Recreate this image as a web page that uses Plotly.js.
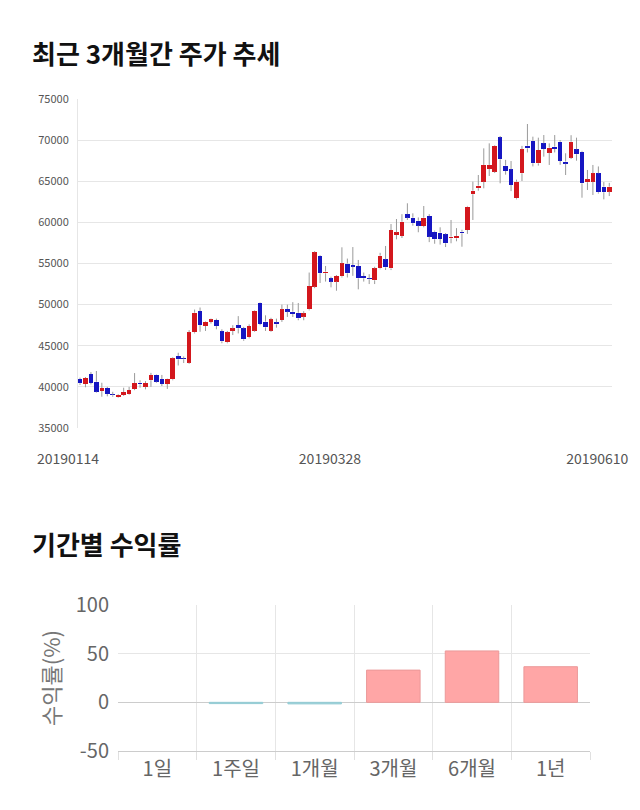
<!DOCTYPE html>
<html>
<head>
<meta charset="utf-8">
<script src="https://cdn.plot.ly/plotly-3.0.1.min.js"></script>
<style>html,body{margin:0;padding:0;background:#fff;}#chart{width:640px;height:810px;}</style>
</head>
<body>
<div id="chart"></div>
<script>
// ---- Price data (daily candles) ----
const dates = [
"20190114","20190115","20190116","20190117","20190118","20190121","20190122","20190123","20190124","20190125","20190128","20190129","20190130","20190131",
"20190207","20190208","20190211","20190212","20190213","20190214","20190215","20190218","20190219","20190220","20190221","20190222","20190225","20190226","20190227","20190228",
"20190304","20190305","20190306","20190307","20190308","20190311","20190312","20190313","20190314","20190315","20190318","20190319","20190320","20190321","20190322","20190325","20190326","20190327","20190328","20190329",
"20190401","20190402","20190403","20190404","20190405","20190408","20190409","20190410","20190411","20190412","20190415","20190416","20190417","20190418","20190419","20190422","20190423","20190424","20190425","20190426","20190429","20190430",
"20190502","20190503","20190507","20190508","20190509","20190510","20190513","20190514","20190515","20190516","20190517","20190520","20190521","20190522","20190523","20190524","20190527","20190528","20190529","20190530","20190531",
"20190603","20190604","20190605","20190607","20190610"];
const openP = [40960,40350,41560,40630,39500,39860,39050,38730,39010,39130,39740,40510,40000,40800,41440,40960,40350,40920,43760,43450,42950,46640,49220,47400,47890,48130,46760,45420,46800,47520,47120,46030,46840,50240,47930,46840,47850,48130,49470,49140,49020,48540,49430,52190,55910,53810,53200,52800,53440,55000,54820,54690,53480,53200,52960,54400,55500,54400,58470,58350,61000,60570,60200,59560,60770,58870,58750,58550,58060,58060,58870,59070,63420,64150,64950,66500,66170,70340,66900,66450,62930,65970,69320,69930,67180,69610,68470,69210,69810,67390,67880,68890,68590,64880,64950,65970,64340,63740];
const highP = [41120,41200,41800,41930,40500,40000,39400,39100,39900,40000,41680,40800,40700,41700,41500,41450,41000,43600,44150,43700,46900,49400,49650,48000,48300,48300,47000,46800,47500,48600,47300,47600,49300,50300,48700,48400,48300,50000,50000,50300,50200,49200,53900,56500,56000,54700,53400,53600,56970,55600,57000,55430,53900,53700,54600,56300,57130,59800,60410,61000,62320,61100,60600,61990,61000,59000,59400,58700,60290,59300,59100,62000,64950,65760,69000,69610,69400,70500,67600,67460,65200,69300,71960,70420,70300,70620,69610,70620,70000,68400,70600,70300,68700,66370,66980,66800,64900,64800];
const lowP = [40230,39950,40300,39300,38800,38850,38800,38650,38900,39050,39600,39900,39700,40000,40500,40100,39750,40800,42600,42900,42800,46500,46700,46800,47700,47000,45300,45300,46300,46500,45600,45900,46700,47500,46800,46700,47200,47900,48500,48500,48100,48100,49300,52000,52630,52800,52100,51690,53300,53300,53500,51860,52800,52500,52500,54300,54210,54200,57940,58100,60290,59600,58800,59400,57600,57400,57300,57000,57460,57700,57040,58600,60290,63850,64140,65640,66000,64750,65800,63800,62800,65030,68500,66800,66900,67990,66980,68500,67000,65760,67700,67500,63000,63940,63330,63500,62800,63200];
const closeP = [40440,41080,40470,39410,39860,39130,38980,39010,39380,39620,40470,40310,40470,41440,40630,40350,40960,43470,43350,43350,46640,49020,47520,47930,48210,47400,45540,46640,47100,47120,45780,47400,49220,47640,47240,48210,47600,49430,49140,48860,48330,48940,52270,56360,53810,54010,52800,53480,55020,53800,54610,53200,53200,53080,54400,55950,54520,59070,58790,60080,60570,59890,59600,60570,58260,57940,57980,57460,58260,58350,58670,61920,63850,64470,66980,66980,69320,67670,66250,64550,64950,68890,69000,67180,68800,68920,69080,68920,67470,67140,69810,68290,64750,65240,65970,63660,63660,64340];
const tickIdx = [0, 48, 97];

// ---- Period returns ----
const periods = ["1일","1주일","1개월","3개월","6개월","1년"];
const returns = [0, -1.3, -1.6, 33.1, 52.8, 36.6];
const returnTicks = [-50, 0, 50, 100];

const RED = "#d3171d", BLUE = "#1616c2";
const idx = dates.map((d, i) => i);

// wick segments (above and below the body)
const wx = [], wy = [];
idx.forEach(i => {
  const top = Math.max(openP[i], closeP[i]), bot = Math.min(openP[i], closeP[i]);
  wx.push(i, i, null, i, i, null);
  wy.push(highP[i], top, null, bot, lowP[i], null);
});
const bodyBase = idx.map(i => Math.min(openP[i], closeP[i]));
const bodyH = idx.map(i => Math.max(Math.abs(closeP[i] - openP[i]), 110));
const bodyCol = idx.map(i => closeP[i] >= openP[i] ? RED : BLUE);

const FONT = "Noto Sans CJK KR, Noto Sans, sans-serif";

const traces = [
  {type: "scatter", mode: "lines", x: wx, y: wy, xaxis: "x", yaxis: "y",
   line: {color: "#9a9a9a", width: 1}, hoverinfo: "skip", connectgaps: false},
  {type: "bar", x: idx, y: bodyH, base: bodyBase, xaxis: "x", yaxis: "y",
   width: 0.85, marker: {color: bodyCol, line: {width: 0}}},
  {type: "bar", x: periods, y: returns, xaxis: "x2", yaxis: "y2", width: 0.68,
   marker: {color: returns.map(v => v >= 0 ? "#ffa6a6" : "#a9dbe1"),
            line: {color: returns.map(v => v === 0 ? "rgba(0,0,0,0)" : (v > 0 ? "#eb9898" : "#92cbd3")), width: 1}}}
];

const W = 640, H = 810;
const layout = {
  width: W, height: H, margin: {l: 0, r: 0, t: 0, b: 0},
  paper_bgcolor: "#fff", plot_bgcolor: "#fff", showlegend: false,
  font: {family: FONT, color: "#555"},
  bargap: 0,
  xaxis: {domain: [78 / W, 612 / W], range: [-0.37, 97.5], anchor: "y",
          tickmode: "array", tickvals: tickIdx, ticktext: tickIdx.map(i => dates[i]),
          ticks: "", ticklabelstandoff: 21, ticklabelshift: -12,
          tickfont: {size: 14, color: "#555", family: FONT},
          showgrid: false, zeroline: false, showline: false, fixedrange: true},
  yaxis: {domain: [1 - 428 / H, 1 - 99 / H], range: [35000, 75000], anchor: "x",
          dtick: 5000, tickformat: "d", gridcolor: "#e6e6e6", zeroline: false,
          showline: true, linecolor: "#e6e6e6", ticks: "", ticklabelstandoff: 6,
          tickfont: {size: 11, color: "#555", family: FONT}},
  xaxis2: {domain: [118 / W, 590 / W], anchor: "y2", type: "category",
           tickson: "boundaries", ticks: "outside", ticklen: 8, tickcolor: "#e0e0e0",
           showgrid: true, gridcolor: "#e6e6e6", showline: true, linecolor: "#cccccc",
           tickfont: {size: 20, color: "#666", family: FONT}},
  yaxis2: {domain: [1 - 751 / H, 1 - 605 / H], anchor: "x2", range: [-50, 100],
           tickmode: "array", tickvals: returnTicks, ticktext: returnTicks.map(v => String(v)),
           gridcolor: "#e6e6e6", zeroline: true, zerolinecolor: "#cccccc",
           ticks: "", ticklabelstandoff: 8,
           tickfont: {size: 20, color: "#666", family: FONT},
           title: {text: "수익률(%)", font: {size: 22, color: "#777", family: FONT}, standoff: 8}},
  annotations: [
    {text: "<b>최근 3개월간 주가 추세</b>", xref: "paper", yref: "paper",
     x: 30 / W, y: 1 - 52 / H, xanchor: "left", yanchor: "middle", showarrow: false,
     font: {size: 26, color: "#111", family: FONT}},
    {text: "<b>기간별 수익률</b>", xref: "paper", yref: "paper",
     x: 30 / W, y: 1 - 543 / H, xanchor: "left", yanchor: "middle", showarrow: false,
     font: {size: 26, color: "#111", family: FONT}}
  ]
};

Plotly.newPlot("chart", traces, layout, {displayModeBar: false, staticPlot: true});
</script>
</body>
</html>
